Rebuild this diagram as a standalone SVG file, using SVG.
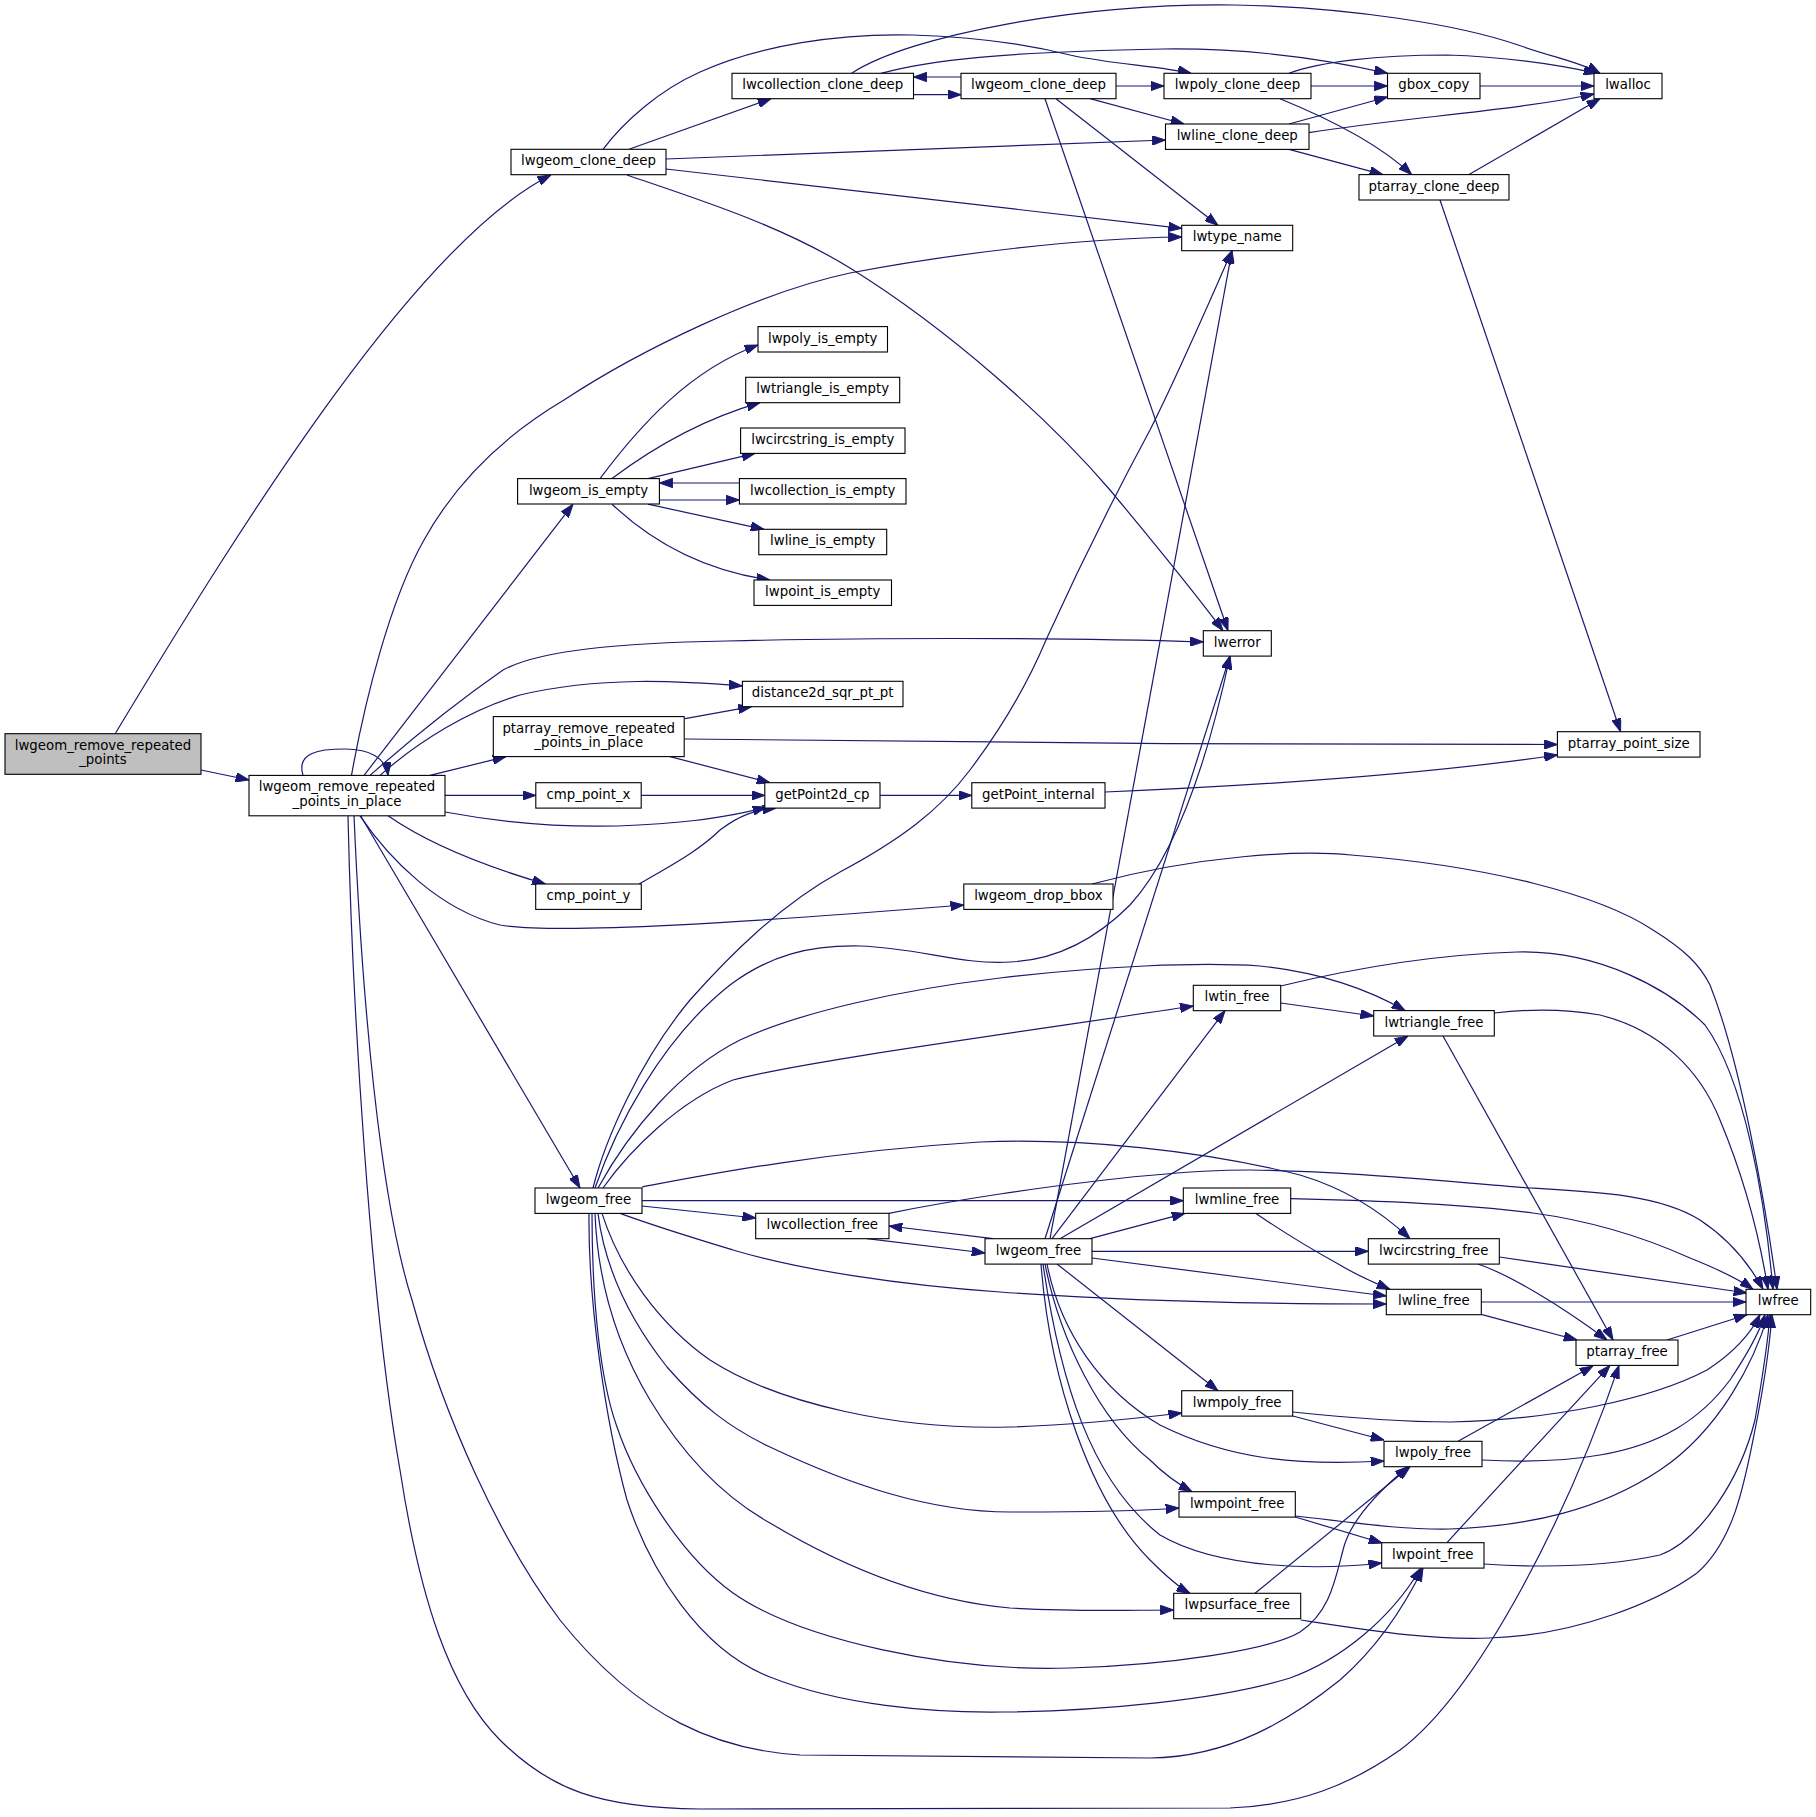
<svg xmlns="http://www.w3.org/2000/svg" width="1816" height="1817" viewBox="0 0 1816 1817">
<style>
.n rect{fill:#ffffff;stroke:#000000;stroke-width:1.1}
.n.g rect{fill:#bfbfbf}
.n text{font-family:'DejaVu Sans','Liberation Sans',sans-serif;font-size:13.33px;fill:#000000;text-anchor:middle}
.e path{fill:none;stroke:#191970;stroke-width:1.2;marker-end:url(#arr)}
</style>
<defs>
<marker id="arr" viewBox="0 0 13.3 9.4" refX="13.3" refY="4.7" markerWidth="13.3" markerHeight="9.4" markerUnits="userSpaceOnUse" orient="auto">
<path d="M0,0 L13.3,4.7 L0,9.4 z" fill="#191970" stroke="#191970" stroke-width="1"/>
</marker>
</defs>
<rect x="0" y="0" width="1816" height="1817" fill="#ffffff"/>
<g id="connectors" class="e">
<path d="M201,770 L249,780"/>
<path d="M115,734 C250,510 420,240 551,175"/>
<path d="M303,775.4 C296,752 320,749 345,749 C370,749 386,758 388,775.4"/>
<path d="M364,775.4 L573,504.2"/>
<path d="M351.5,775.4 C365,700 390,600 424,540 C460,475 510,432 564,400 C640,350 760,292 850,273 C950,254 1080,238 1181.7,237"/>
<path d="M370,775.4 C410,740 460,700 503,670 C540,650 620,643 727,641 C850,638 1050,637 1203.3,642"/>
<path d="M380,775.4 C420,740 470,710 520,695 C600,676 680,681 742.4,686"/>
<path d="M430,775.4 L506,756.6"/>
<path d="M445,795.4 L535.8,795.4"/>
<path d="M445,812 C520,826 600,830 680,822 C720,818 745,813 766,807"/>
<path d="M388,815.8 C420,838 470,862 545.5,884"/>
<path d="M360,815.8 C390,860 440,910 500,925 C560,935 750,922 963.8,905"/>
<path d="M360.6,815.8 L580,1188"/>
<path d="M348,815.8 C352,1000 370,1300 400,1470 C420,1600 450,1690 500,1740 C550,1790 600,1808 700,1809 L1230,1808 C1300,1805 1350,1785 1400,1750 C1480,1690 1570,1510 1619,1365.4"/>
<path d="M354,815.8 C362,1000 380,1200 412,1300 C445,1420 500,1540 560,1620 C640,1720 720,1750 800,1755 L1150,1758 C1230,1757 1290,1720 1340,1680 C1380,1645 1405,1605 1423,1568"/>
<path d="M629,149.3 L771,98.7"/>
<path d="M603,149.3 C625,120 660,90 700,72 C760,45 840,33 913,35 C980,37 1030,45 1070,55 C1110,64 1160,66 1191,73.3"/>
<path d="M666,159 L1165.5,140"/>
<path d="M666,169 L1181.7,228.3"/>
<path d="M627,175 C700,200 780,225 850,268 C950,330 1050,420 1110,490 C1160,550 1200,600 1223,630.7"/>
<path d="M913.5,94.7 L961,94.7"/>
<path d="M961,77 L913.5,77"/>
<path d="M881,73.3 C930,60 1000,52 1163,49 C1250,48 1330,60 1387.5,73.3"/>
<path d="M851.6,73.3 C910,35 1080,3 1234,5 C1350,7 1460,25 1518,45 C1555,58 1580,62 1600,73.3"/>
<path d="M1116,86 L1164,86"/>
<path d="M1090,98.7 L1184,124"/>
<path d="M1056,98.7 L1218,225.3"/>
<path d="M1045,98.7 L1228,630.7"/>
<path d="M1311,86 L1387.5,86"/>
<path d="M1289,73.3 C1320,62 1376,55 1447,55 C1510,57 1560,65 1597,73.3"/>
<path d="M1280,98.7 C1320,115 1375,140 1411.7,174.6"/>
<path d="M1289,124 L1387.5,97"/>
<path d="M1309,132.7 C1400,118 1520,110 1594,94"/>
<path d="M1289,149.4 L1383,174.6"/>
<path d="M1480,86 L1594,86"/>
<path d="M1469,174.6 L1600,98.7"/>
<path d="M1440,200 L1620.6,731.7"/>
<path d="M600,478.6 C640,425 690,370 758,345"/>
<path d="M612,478.6 C650,450 700,420 760,402.7"/>
<path d="M648,478.6 L755,453.4"/>
<path d="M659.4,500 L739.4,500"/>
<path d="M739.4,483 L659.4,483"/>
<path d="M648,504.2 L764,529.3"/>
<path d="M612,504.2 C650,540 700,570 770,580"/>
<path d="M685,718.6 L751.5,706.7"/>
<path d="M684.2,739 C900,743 1300,744.5 1557.4,744.5"/>
<path d="M670,756.6 L770,782.7"/>
<path d="M641.2,795.4 L764.8,795.4"/>
<path d="M639,884 C670,866 700,850 720,830 C740,815 755,810 776,808.1"/>
<path d="M880,795.4 L971.8,795.4"/>
<path d="M1105,792 C1200,788 1400,778 1557.4,755"/>
<path d="M1092,884 C1200,855 1300,850 1351,855 C1490,866 1600,895 1653,930 C1685,950 1700,965 1710,985 C1740,1060 1765,1200 1777,1289.3"/>
<path d="M593,1188 C605,1140 640,1060 690,1000 C730,955 780,905 840,872 C900,840 940,810 970,770 C1000,730 1025,690 1046,640 C1080,565 1115,495 1150,430 C1180,370 1210,300 1232,250.7"/>
<path d="M595,1188 C615,1130 660,1040 730,985 C770,955 810,945 860,946 C920,948 960,965 1010,962 C1060,960 1100,935 1130,905 C1180,850 1210,750 1230,656"/>
<path d="M598,1188 C630,1130 680,1070 740,1040 C800,1012 900,990 1000,978 C1100,966 1200,962 1260,966 C1320,972 1370,990 1405,1010.6"/>
<path d="M603,1188 C630,1150 680,1100 733,1080 C800,1062 1000,1035 1193.3,1006"/>
<path d="M642,1187 C700,1176 820,1152 980,1142 C1080,1138 1200,1150 1300,1175 C1350,1190 1385,1215 1410,1238.7"/>
<path d="M642,1200.7 L1183.3,1200.7"/>
<path d="M642,1206 L755.7,1218"/>
<path d="M620,1213.4 C660,1228 700,1240 733,1250 C800,1270 900,1285 1000,1292 C1150,1303 1300,1304 1386.3,1304"/>
<path d="M602,1213.4 C620,1270 660,1325 710,1360 C780,1405 900,1430 1010,1427 C1080,1425 1140,1418 1181.7,1413"/>
<path d="M598,1213.4 C605,1270 630,1320 667,1367 C700,1405 730,1428 770,1447 C850,1485 930,1512 1010,1512 C1090,1512 1140,1511 1179,1508"/>
<path d="M595,1213.4 C598,1290 620,1350 650,1400 C680,1450 720,1495 770,1523 C840,1565 920,1600 1010,1608 C1080,1612 1130,1610 1173.7,1610"/>
<path d="M592,1213.4 C592,1300 600,1380 617,1427 C635,1480 680,1555 733,1593 C800,1640 950,1672 1070,1668 C1170,1665 1270,1650 1300,1632 C1330,1612 1335,1580 1343,1550 C1350,1520 1380,1490 1408,1466.7"/>
<path d="M589,1213.4 C588,1300 605,1420 627,1500 C650,1570 700,1650 770,1677 C840,1705 930,1713 1003,1712 C1100,1711 1220,1700 1290,1678 C1340,1660 1390,1620 1421,1568"/>
<path d="M1050,1238.7 L1232,250.7"/>
<path d="M1045,1238.7 L1230,656"/>
<path d="M1052,1238.7 L1225,1010.7"/>
<path d="M1060,1238.7 L1408,1036"/>
<path d="M1090,1238.7 L1185,1213.4"/>
<path d="M1092,1251.3 L1368.3,1251.3"/>
<path d="M1092,1258 L1386.3,1296"/>
<path d="M993,1238.7 L889,1226"/>
<path d="M867,1238.7 L985,1253"/>
<path d="M1057,1264 L1218,1390.7"/>
<path d="M1047,1264 C1060,1330 1100,1390 1160,1425 C1230,1460 1300,1466 1384,1461"/>
<path d="M1045,1264 C1060,1340 1100,1420 1150,1460 C1165,1475 1180,1485 1192,1491.7"/>
<path d="M1043,1264 C1060,1380 1090,1480 1160,1535 C1220,1570 1320,1570 1381.7,1563"/>
<path d="M1041,1264 C1050,1380 1090,1500 1150,1560 C1165,1575 1180,1588 1190,1593.3"/>
<path d="M889,1213.3 C930,1205 960,1200 1000,1194 C1080,1182 1180,1170 1250,1170 C1350,1171 1450,1182 1530,1188 C1600,1192 1660,1195 1700,1220 C1730,1240 1750,1265 1763,1289.3"/>
<path d="M1290.7,1198.7 C1400,1201 1470,1205 1533,1213 C1600,1222 1650,1240 1690,1258 C1720,1270 1740,1280 1753,1289.3"/>
<path d="M1256,1213.4 C1280,1230 1313,1250 1340,1265 C1360,1277 1375,1283 1390,1289.3"/>
<path d="M1499.3,1257 L1747,1293"/>
<path d="M1478,1264 C1510,1275 1560,1305 1607,1340"/>
<path d="M1481.3,1302 L1746,1302"/>
<path d="M1482,1314.7 L1577,1340"/>
<path d="M1667,1340 L1747,1314.7"/>
<path d="M1280.7,1003 L1373.7,1016"/>
<path d="M1280.7,986 C1330,974 1420,955 1517,952 C1600,950 1670,990 1705,1025 C1745,1080 1765,1200 1773,1289.3"/>
<path d="M1494.3,1013 C1520,1010 1560,1008 1600,1015 C1660,1030 1700,1070 1720,1120 C1745,1180 1760,1240 1768,1289.3"/>
<path d="M1443,1036 L1613,1340"/>
<path d="M1292.7,1412 C1350,1418 1400,1422 1450,1422 C1550,1420 1650,1400 1707,1370 C1730,1355 1750,1335 1760,1314.7"/>
<path d="M1292.7,1416 L1384,1440"/>
<path d="M1458,1441.3 L1593,1366"/>
<path d="M1482,1460 C1520,1462 1560,1462 1600,1455 C1660,1445 1700,1420 1730,1380 C1750,1350 1760,1330 1765,1314.7"/>
<path d="M1295.3,1516 C1350,1522 1400,1530 1450,1529 C1530,1526 1600,1510 1660,1470 C1720,1430 1755,1360 1768,1314.7"/>
<path d="M1295.3,1517 L1382,1543"/>
<path d="M1447,1542.7 C1490,1495 1560,1420 1610,1365.4"/>
<path d="M1484,1564 C1530,1567 1600,1568 1660,1555 C1700,1540 1740,1480 1755,1420 C1762,1380 1768,1340 1770,1314.7"/>
<path d="M1300.7,1620 C1380,1632 1430,1640 1490,1638 C1580,1635 1660,1600 1697,1573 C1735,1540 1745,1480 1755,1430 C1765,1380 1770,1340 1772,1314.7"/>
<path d="M1255,1593.3 L1410,1466.7"/>
</g>
<g id="node_lwgeom_remove_repeated_points" class="n g"><rect x="5" y="733.7" width="196" height="40.6"/><text x="103" y="749.7">lwgeom_remove_repeated</text><text x="103" y="764.4">_points</text></g>
<g id="node_lwgeom_remove_repeated_points_in_place" class="n"><rect x="249" y="775.4" width="196" height="40.4"/><text x="347" y="791.4">lwgeom_remove_repeated</text><text x="347" y="806.1">_points_in_place</text></g>
<g id="node_lwgeom_clone_deep_1" class="n"><rect x="511" y="149.3" width="155" height="25.4"/><text x="588.5" y="165.3">lwgeom_clone_deep</text></g>
<g id="node_lwcollection_clone_deep" class="n"><rect x="732" y="73.3" width="181.5" height="25.4"/><text x="822.75" y="89.3">lwcollection_clone_deep</text></g>
<g id="node_lwgeom_clone_deep_2" class="n"><rect x="961" y="73.3" width="155" height="25.4"/><text x="1038.5" y="89.3">lwgeom_clone_deep</text></g>
<g id="node_lwpoly_clone_deep" class="n"><rect x="1164" y="73.3" width="147" height="25.4"/><text x="1237.5" y="89.3">lwpoly_clone_deep</text></g>
<g id="node_gbox_copy" class="n"><rect x="1387.5" y="73.3" width="92.5" height="25.4"/><text x="1433.75" y="89.3">gbox_copy</text></g>
<g id="node_lwalloc" class="n"><rect x="1594" y="73.3" width="68" height="25.4"/><text x="1628" y="89.3">lwalloc</text></g>
<g id="node_lwline_clone_deep" class="n"><rect x="1165.5" y="124" width="143.5" height="25.4"/><text x="1237.25" y="140">lwline_clone_deep</text></g>
<g id="node_ptarray_clone_deep" class="n"><rect x="1359" y="174.6" width="150" height="25.4"/><text x="1434" y="190.6">ptarray_clone_deep</text></g>
<g id="node_lwtype_name" class="n"><rect x="1181.7" y="225.3" width="111" height="25.4"/><text x="1237.2" y="241.3">lwtype_name</text></g>
<g id="node_lwpoly_is_empty" class="n"><rect x="758" y="326.6" width="129.5" height="25.4"/><text x="822.75" y="342.6">lwpoly_is_empty</text></g>
<g id="node_lwtriangle_is_empty" class="n"><rect x="745.7" y="377.3" width="154" height="25.4"/><text x="822.7" y="393.3">lwtriangle_is_empty</text></g>
<g id="node_lwcircstring_is_empty" class="n"><rect x="740.6" y="428" width="164.4" height="25.4"/><text x="822.8" y="444">lwcircstring_is_empty</text></g>
<g id="node_lwcollection_is_empty" class="n"><rect x="739.4" y="478.6" width="166.6" height="25.4"/><text x="822.7" y="494.6">lwcollection_is_empty</text></g>
<g id="node_lwgeom_is_empty" class="n"><rect x="517.6" y="478.6" width="141.8" height="25.4"/><text x="588.5" y="494.6">lwgeom_is_empty</text></g>
<g id="node_lwline_is_empty" class="n"><rect x="758.8" y="529.3" width="127.9" height="25.4"/><text x="822.75" y="545.3">lwline_is_empty</text></g>
<g id="node_lwpoint_is_empty" class="n"><rect x="754" y="580" width="137.5" height="25.4"/><text x="822.75" y="596">lwpoint_is_empty</text></g>
<g id="node_lwerror" class="n"><rect x="1203.3" y="630.7" width="68" height="25.4"/><text x="1237.3" y="646.7">lwerror</text></g>
<g id="node_distance2d_sqr_pt_pt" class="n"><rect x="742.4" y="681.3" width="160.6" height="25.4"/><text x="822.7" y="697.3">distance2d_sqr_pt_pt</text></g>
<g id="node_ptarray_remove_repeated_points_in_place" class="n"><rect x="493.3" y="716.6" width="190.9" height="40"/><text x="588.75" y="732.6">ptarray_remove_repeated</text><text x="588.75" y="747.3">_points_in_place</text></g>
<g id="node_ptarray_point_size" class="n"><rect x="1557.4" y="731.7" width="142.6" height="25.4"/><text x="1628.7" y="747.7">ptarray_point_size</text></g>
<g id="node_cmp_point_x" class="n"><rect x="535.8" y="782.7" width="105.4" height="25.4"/><text x="588.5" y="798.7">cmp_point_x</text></g>
<g id="node_getPoint2d_cp" class="n"><rect x="764.8" y="782.7" width="115.2" height="25.4"/><text x="822.4" y="798.7">getPoint2d_cp</text></g>
<g id="node_getPoint_internal" class="n"><rect x="971.8" y="782.7" width="133.2" height="25.4"/><text x="1038.4" y="798.7">getPoint_internal</text></g>
<g id="node_cmp_point_y" class="n"><rect x="535.7" y="884" width="105.6" height="25.4"/><text x="588.5" y="900">cmp_point_y</text></g>
<g id="node_lwgeom_drop_bbox" class="n"><rect x="963.8" y="884" width="149.2" height="25.4"/><text x="1038.4" y="900">lwgeom_drop_bbox</text></g>
<g id="node_lwtin_free" class="n"><rect x="1193.3" y="985.3" width="87.4" height="25.4"/><text x="1237" y="1001.3">lwtin_free</text></g>
<g id="node_lwtriangle_free" class="n"><rect x="1373.7" y="1010.6" width="120.6" height="25.4"/><text x="1434" y="1026.6">lwtriangle_free</text></g>
<g id="node_lwgeom_free_1" class="n"><rect x="535" y="1188" width="107" height="25.4"/><text x="588.5" y="1204">lwgeom_free</text></g>
<g id="node_lwmline_free" class="n"><rect x="1183.3" y="1188" width="107.4" height="25.4"/><text x="1237" y="1204">lwmline_free</text></g>
<g id="node_lwcollection_free" class="n"><rect x="755.7" y="1213.3" width="133.3" height="25.4"/><text x="822.3" y="1229.3">lwcollection_free</text></g>
<g id="node_lwgeom_free_2" class="n"><rect x="985" y="1238.7" width="107" height="25.4"/><text x="1038.5" y="1254.7">lwgeom_free</text></g>
<g id="node_lwcircstring_free" class="n"><rect x="1368.3" y="1238.7" width="131" height="25.4"/><text x="1433.8" y="1254.7">lwcircstring_free</text></g>
<g id="node_lwline_free" class="n"><rect x="1386.3" y="1289.3" width="95" height="25.4"/><text x="1433.8" y="1305.3">lwline_free</text></g>
<g id="node_lwfree" class="n"><rect x="1746" y="1289.3" width="64.7" height="25.4"/><text x="1778.3" y="1305.3">lwfree</text></g>
<g id="node_ptarray_free" class="n"><rect x="1576" y="1340" width="102" height="25.4"/><text x="1627" y="1356">ptarray_free</text></g>
<g id="node_lwmpoly_free" class="n"><rect x="1181.7" y="1390.7" width="111" height="25.4"/><text x="1237.2" y="1406.7">lwmpoly_free</text></g>
<g id="node_lwpoly_free" class="n"><rect x="1384" y="1441.3" width="98" height="25.4"/><text x="1433" y="1457.3">lwpoly_free</text></g>
<g id="node_lwmpoint_free" class="n"><rect x="1179" y="1491.7" width="116.3" height="25.4"/><text x="1237.2" y="1507.7">lwmpoint_free</text></g>
<g id="node_lwpoint_free" class="n"><rect x="1381.7" y="1542.7" width="102.3" height="25.4"/><text x="1432.8" y="1558.7">lwpoint_free</text></g>
<g id="node_lwpsurface_free" class="n"><rect x="1173.7" y="1593.3" width="127" height="25.4"/><text x="1237.2" y="1609.3">lwpsurface_free</text></g>
</svg>
